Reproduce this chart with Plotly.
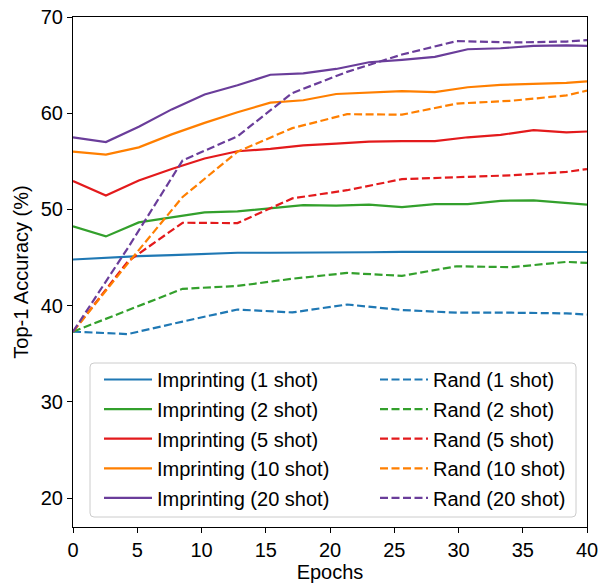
import plotly.graph_objects as go

imp_x = [0, 2.56, 5.12, 7.68, 10.24, 12.8, 15.36, 17.92, 20.48, 23.04, 25.6, 28.16, 30.72, 33.28, 35.84, 38.4, 40]
rand_x = [0, 4.27, 8.53, 12.8, 17.07, 21.33, 25.6, 29.87, 34.13, 38.4, 40]

imp_1 = [44.8, 45.0, 45.15, 45.25, 45.35, 45.5, 45.5, 45.5, 45.52, 45.55, 45.6, 45.6, 45.58, 45.58, 45.58, 45.58, 45.58]
imp_2 = [48.25, 47.2, 48.65, 49.2, 49.7, 49.8, 50.15, 50.45, 50.4, 50.5, 50.25, 50.55, 50.55, 50.9, 50.95, 50.7, 50.5]
imp_5 = [52.95, 51.45, 53.0, 54.2, 55.3, 56.05, 56.3, 56.65, 56.85, 57.05, 57.1, 57.1, 57.5, 57.75, 58.25, 58.0, 58.1]
imp_10 = [56.0, 55.7, 56.45, 57.8, 59.0, 60.1, 61.1, 61.35, 62.0, 62.15, 62.3, 62.2, 62.7, 62.95, 63.05, 63.15, 63.3]
imp_20 = [57.5, 57.0, 58.6, 60.4, 61.95, 62.9, 64.0, 64.15, 64.6, 65.3, 65.55, 65.85, 66.65, 66.75, 67.0, 67.05, 67.0]

rand_1 = [37.3, 37.05, 38.35, 39.6, 39.3, 40.12, 39.55, 39.27, 39.27, 39.2, 39.08]
rand_2 = [37.3, 39.5, 41.75, 42.05, 42.8, 43.4, 43.1, 44.1, 44.0, 44.55, 44.45]
rand_5 = [37.3, 44.6, 48.62, 48.58, 51.15, 52.0, 53.15, 53.35, 53.55, 53.9, 54.2]
rand_10 = [37.3, 44.4, 51.3, 56.0, 58.45, 59.9, 59.85, 61.0, 61.3, 61.85, 62.35]
rand_20 = [37.3, 46.0, 55.1, 57.6, 62.1, 64.3, 66.1, 67.5, 67.35, 67.45, 67.6]

shots = ["1", "2", "5", "10", "20"]
colors = ["#1f78b4", "#33a02c", "#e31a1c", "#ff7f00", "#6a3d9a"]
imp_series = [imp_1, imp_2, imp_5, imp_10, imp_20]
rand_series = [rand_1, rand_2, rand_5, rand_10, rand_20]

x_ticks = [0, 5, 10, 15, 20, 25, 30, 35, 40]
y_ticks = [20, 30, 40, 50, 60, 70]

FONT = "Liberation Sans, Arial, sans-serif"
FS = 20
LW = 2.2

fig = go.Figure()
for s, c, ys in zip(shots, colors, imp_series):
    fig.add_trace(go.Scatter(x=imp_x, y=ys, mode="lines", name=f"Imprinting ({s} shot)",
                             line=dict(color=c, width=LW), legend="legend",
                             legendgroup="i" + s))
for s, c, ys in zip(shots, colors, rand_series):
    fig.add_trace(go.Scatter(x=rand_x, y=ys, mode="lines", name=f"Rand ({s} shot)",
                             line=dict(color=c, width=LW, dash="8px,3.5px"), legend="legend2",
                             legendgroup="r" + s))

L, R, T, B = 73, 13, 17, 56
W, H = 600, 583
pw = W - L - R
ph = H - T - B

def px(xp):
    return (xp - L) / pw

def py(yp):
    return 1 - (yp - T) / ph

leg_common = dict(font=dict(family=FONT, size=FS, color="#000"), bgcolor="rgba(0,0,0,0)",
                  tracegroupgap=0.6, itemwidth=48, xanchor="left", yanchor="top",
                  orientation="v")

fig.update_layout(
    width=W, height=H,
    margin=dict(l=L, r=R, t=T, b=B, autoexpand=False),
    plot_bgcolor="white", paper_bgcolor="white",
    font=dict(family=FONT, size=FS, color="#000"),
    showlegend=True,
    legend=dict(x=px(99), y=py(360), **leg_common),
    legend2=dict(x=px(375), y=py(360), **leg_common),
    xaxis=dict(range=[0, 40], tickvals=x_ticks, ticks="outside", ticklen=5, tickwidth=1.2,
               tickcolor="#000", showline=True, linecolor="#000", linewidth=1.2, mirror=True,
               showgrid=False, zeroline=False, tickfont=dict(size=FS), automargin=False,
               title=dict(text="Epochs", font=dict(size=FS), standoff=4)),
    yaxis=dict(range=[17, 70], tickvals=y_ticks, ticks="outside", ticklen=5, tickwidth=1.2,
               tickcolor="#000", showline=True, linecolor="#000", linewidth=1.2, mirror=True,
               showgrid=False, zeroline=False, tickfont=dict(size=FS), automargin=False,
               title=dict(text="Top-1 Accuracy (%)", font=dict(size=FS), standoff=6)),
)

# legend frame (matplotlib-like rounded box)
x0, x1 = px(90), px(576)
y0, y1 = py(517), py(363)
rx, ry = 4 / pw, 4 / ph
path = (f"M {x0+rx},{y0} L {x1-rx},{y0} Q {x1},{y0} {x1},{y0+ry} L {x1},{y1-ry} "
        f"Q {x1},{y1} {x1-rx},{y1} L {x0+rx},{y1} Q {x0},{y1} {x0},{y1-ry} "
        f"L {x0},{y0+ry} Q {x0},{y0} {x0+rx},{y0} Z")
fig.add_shape(type="path", path=path, xref="paper", yref="paper",
              line=dict(color="#cccccc", width=1), fillcolor="rgba(255,255,255,0.8)", layer="above")

fig.write_html("out.html")
